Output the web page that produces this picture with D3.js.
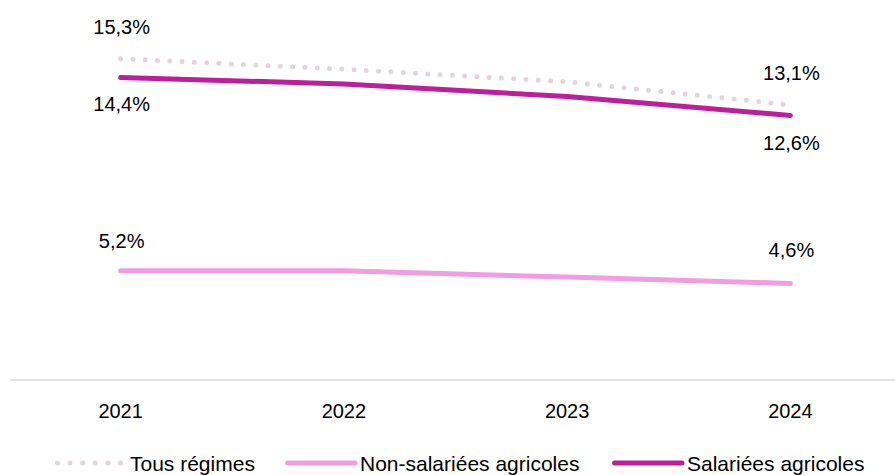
<!DOCTYPE html>
<html>
<head>
<meta charset="utf-8">
<script src="https://cdn.jsdelivr.net/npm/d3@7"></script>
<style>
  html, body { margin: 0; padding: 0; background: #fff; }
  svg { display: block; }
  text { font-family: "Liberation Sans", Arial, sans-serif; fill: #000; }
</style>
</head>
<body>
<svg id="chart" width="895" height="475"></svg>
<script>
// ---- Data ----
const years = ["2021", "2022", "2023", "2024"];
const seriesNames = ["Tous régimes", "Non-salariées agricoles", "Salariées agricoles"];
const tousRegimes = [15.3, 14.8, 14.2, 13.1];
const nonSalariees = [5.2, 5.2, 4.9, 4.6];
const salariees = [14.4, 14.1, 13.5, 12.6];

// ---- Setup ----
const svg = d3.select("#chart");
const x = d3.scaleBand().domain(years).range([9, 902]).padding(0);
const y = d3.scaleLinear().domain([0, 18]).range([380, 2]);
const cx = d => x(d) + x.bandwidth() / 2;

const series = [
  { name: seriesNames[0], values: tousRegimes, color: "#E6D3E0", dotted: true,
    labelDy: [-25, null, null, -25] },
  { name: seriesNames[1], values: nonSalariees, color: "#F29DE3", dotted: false,
    labelDy: [-23, null, null, -26] },
  { name: seriesNames[2], values: salariees, color: "#BD1F9C", dotted: false,
    labelDy: [33, null, null, 35] }
];

const fmt = v => d3.format(".1f")(v).replace(".", ",") + "%";

// ---- Axis ----
const xAxis = d3.axisBottom(x).tickSize(0).tickPadding(0);
const ax = svg.append("g").attr("transform", "translate(0,380)").call(xAxis);
ax.select(".domain").attr("stroke", "#D9D9D9").attr("stroke-width", 1.5)
  .attr("d", "M10,0H895");
ax.selectAll(".tick text")
  .attr("y", 38).attr("dy", 0)
  .style("font-family", "'Liberation Sans', Arial, sans-serif")
  .style("font-size", "20px").attr("fill", "#000");

// ---- Lines ----
const line = d3.line().x((d, i) => cx(years[i])).y(d => y(d));

series.forEach(s => {
  const p = svg.append("path")
    .datum(s.values)
    .attr("d", line)
    .attr("fill", "none")
    .attr("stroke", s.color)
    .attr("stroke-width", 5)
    .attr("stroke-linecap", "round")
    .attr("stroke-linejoin", "round");
  if (s.dotted) p.attr("stroke-dasharray", "0 12.3");
});

// ---- Data labels (first and last point) ----
series.forEach(s => {
  s.values.forEach((v, i) => {
    if (s.labelDy[i] === null) return;
    svg.append("text")
      .attr("x", cx(years[i]) + 1)
      .attr("y", y(v) + s.labelDy[i])
      .attr("text-anchor", "middle")
      .style("font-size", "20px")
      .text(fmt(v));
  });
});

// ---- Legend ----
const legendY = 463;
const legendX = [55, 285, 612];
const legend = svg.append("g");
series.forEach((s, i) => {
  const g = legend.append("g").attr("transform", `translate(${legendX[i]},${legendY})`);
  const l = g.append("line")
    .attr("x1", 2.5).attr("x2", s.dotted ? 66 : 70)
    .attr("y1", 0).attr("y2", 0)
    .attr("stroke", s.color).attr("stroke-width", 5)
    .attr("stroke-linecap", "round");
  if (s.dotted) l.attr("stroke-dasharray", "0 12.6");
  g.append("text")
    .attr("x", s.dotted ? 75 : 75)
    .attr("y", 8)
    .style("font-size", "21px")
    .text(s.name);
});
</script>
</body>
</html>
